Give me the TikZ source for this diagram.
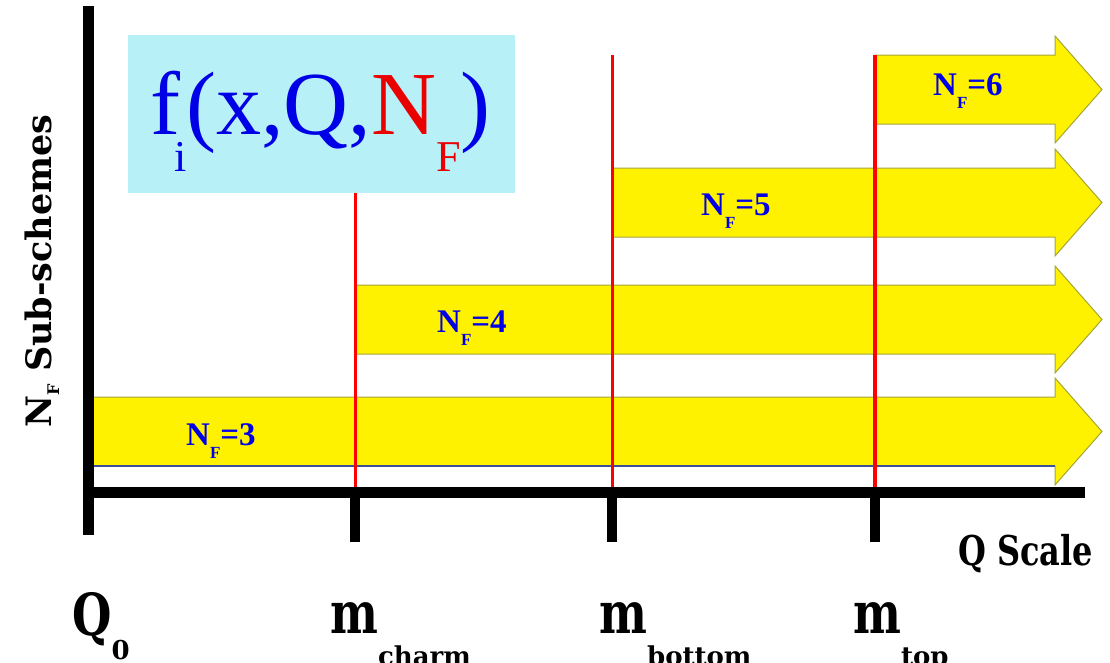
\documentclass[tikz,border=0pt]{standalone}
\usepackage{fontspec}
\usepackage{graphicx}
\setmainfont{Liberation Serif}
\newfontfamily\slab{DejaVu Serif}
\definecolor{boxcyan}{RGB}{184,240,248}
\definecolor{barline}{RGB}{165,165,60}
\definecolor{barblue}{RGB}{60,80,150}
\definecolor{fblue}{RGB}{0,0,230}
\definecolor{fred}{RGB}{235,0,0}
\newcommand{\nflabel}[1]{N\raisebox{-13pt}{\fontsize{17}{17}\selectfont F}=#1}
\newcommand{\scalelbl}[3]{\scalebox{0.78}[1]{#1}\raisebox{#3}{\fontsize{26}{26}\selectfont #2}}
\begin{document}
\begin{tikzpicture}[x=1pt,y=-1pt,
  bar/.style={fill=yellow,draw=barline,line width=1pt},
  axis/.style={line width=11pt},
  tick/.style={line width=10pt},
  mass/.style={red,line width=3pt},
  nf/.style={anchor=base west,inner sep=0pt,font=\fontsize{33}{33}\selectfont\bfseries,text=fblue},
  big/.style={anchor=base west,inner sep=0pt,font=\fontsize{58}{58}\selectfont\slab\bfseries}]
\useasboundingbox (0,0) rectangle (1110,662);
\clip (0,0) rectangle (1110,662);
\node[fill=boxcyan,minimum width=387pt,minimum height=158pt,inner sep=0pt] (fbox) at (321.5,114) {};
\node[anchor=base west,inner sep=0pt,font=\fontsize{90}{90}\selectfont,text=fblue] (pdf) at (150,134)
  {f\kern-6pt\raisebox{-37pt}{\fontsize{44}{44}\selectfont i}(x,Q,\textcolor{fred}{N\raisebox{-37pt}{\fontsize{44}{44}\selectfont F}})};
\foreach \k/\xs/\yt/\lx/\ly in {3/93/397/186/445, 4/355/285/437/332, 5/612/168/701/215, 6/875/55/933/95}
{
  \draw[bar] (\xs,\yt) -- (1055,\yt) -- (1055,\yt-19) -- (1102,\yt+34.5) -- (1055,\yt+88) -- (1055,\yt+69) -- (\xs,\yt+69) -- cycle;
  \node[nf] (nf\k) at (\lx,\ly) {\nflabel{\k}};
}
\draw[barblue,line width=2pt] (93,466) -- (1055,466);
\draw[mass] (355,193) -- (355,488);
\draw[mass] (612,55) -- (612,488);
\draw[mass,line width=4.5pt] (875,55) -- (875,488);
\draw[axis] (88,6) -- (88,535);
\draw[axis] (83,492) -- (1085,492);
\foreach \x in {355,612,875}
  \draw[tick] (\x,492) -- (\x,542);
\node[rotate=90,anchor=base,inner sep=0pt,font=\fontsize{35}{35}\selectfont\slab\bfseries] (ylabel) at (51,271)
  {N\raisebox{-8pt}{\fontsize{16}{16}\selectfont F} Sub-schemes};
\node[anchor=base west,inner sep=0pt,font=\fontsize{41}{41}\selectfont\slab\bfseries] (qscale) at (958,565) {\scalebox{0.78}[1]{Q Scale}};
\node[big] (q0) at (72,635) {\scalelbl{Q}{0}{-24pt}};
\node[big] (mc) at (330,633) {\scalelbl{m}{charm}{-32pt}};
\node[big] (mb) at (599,633) {\scalelbl{m}{bottom}{-32pt}};
\node[big] (mt) at (853,633) {\scalelbl{m}{top}{-32pt}};
\end{tikzpicture}
\end{document}
